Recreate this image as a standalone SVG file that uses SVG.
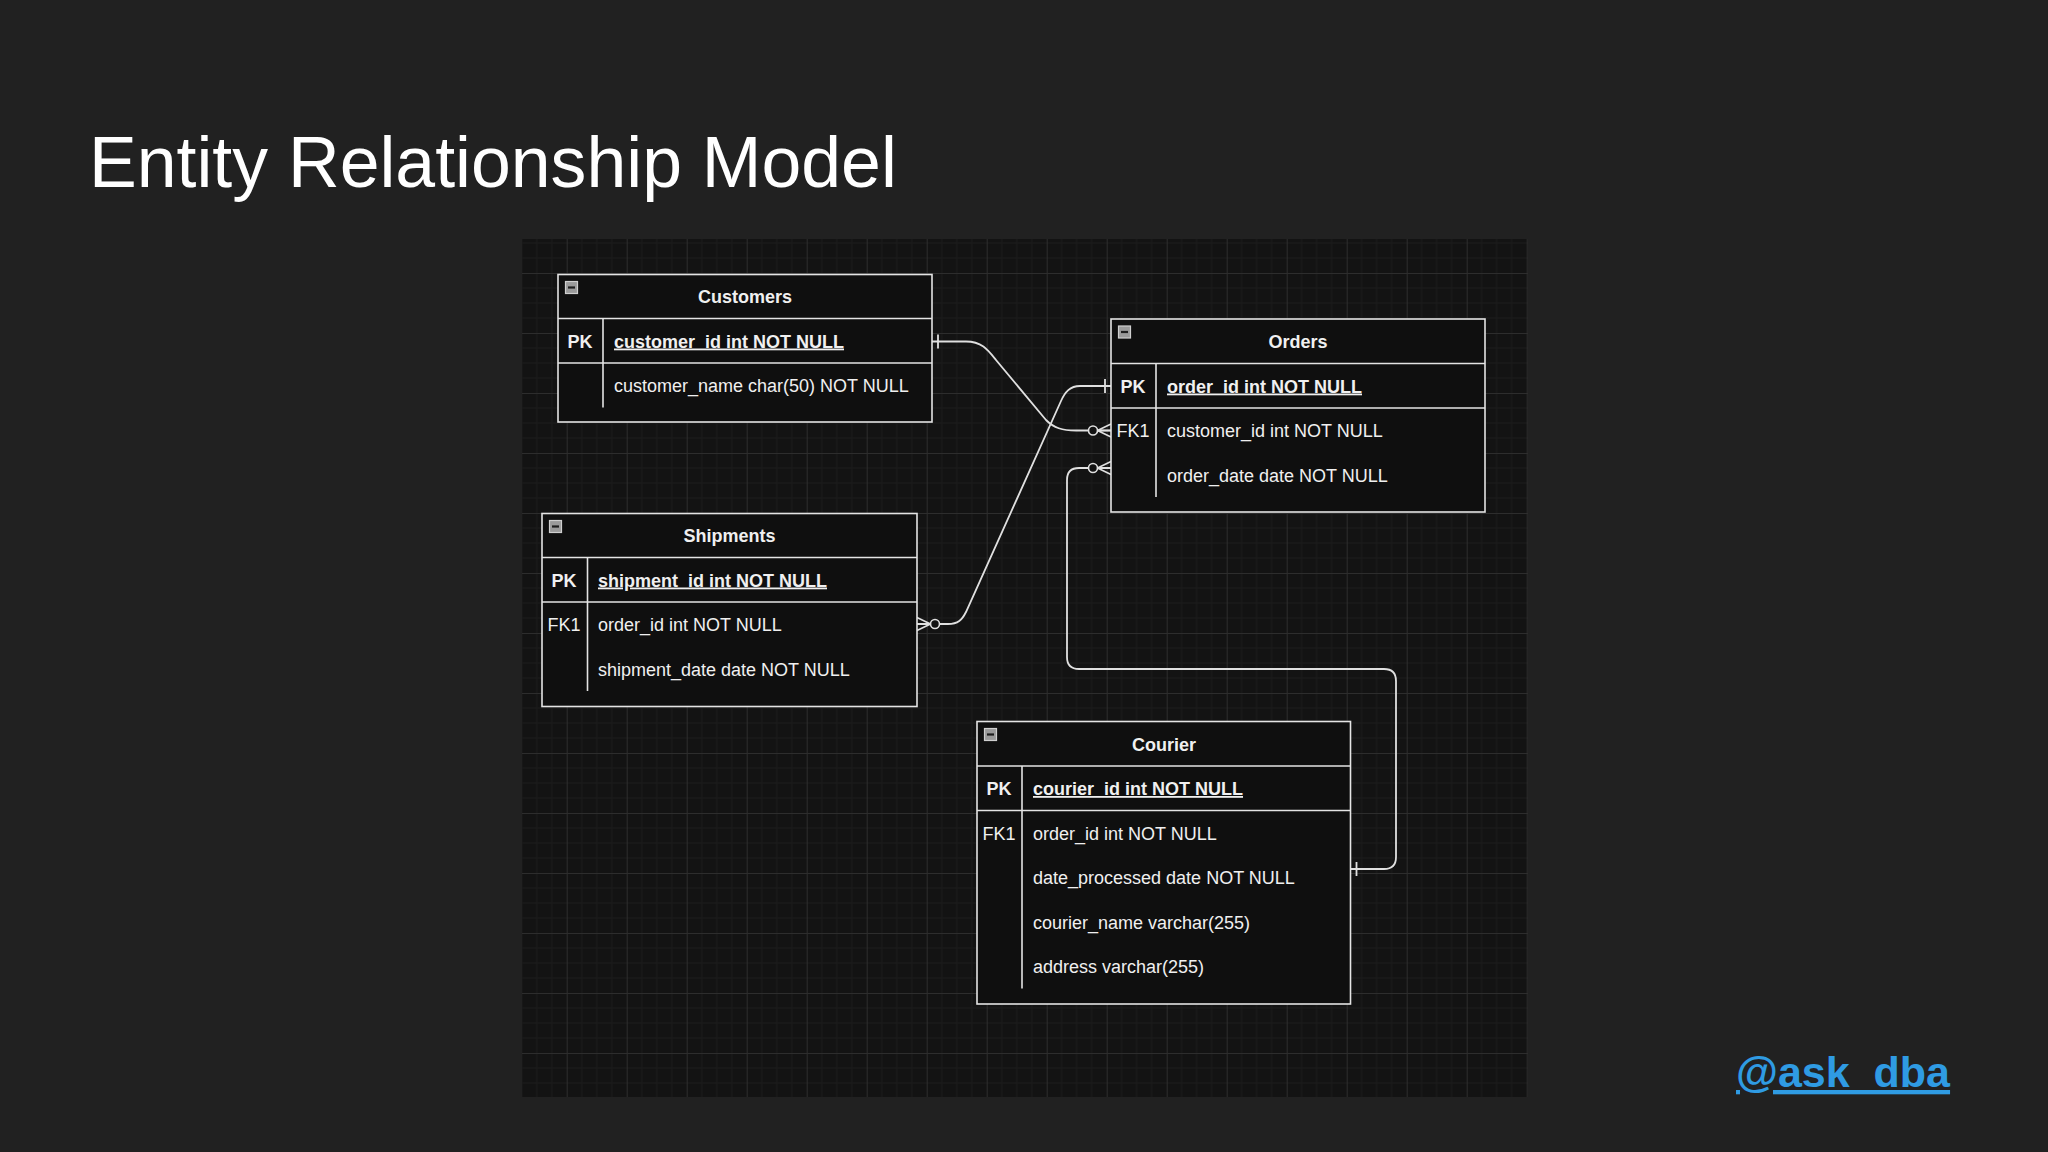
<svg xmlns="http://www.w3.org/2000/svg" width="2048" height="1152" viewBox="0 0 2048 1152">
  <style>
    .tbl { fill: #0f0f0f; stroke: #e4e4e4; stroke-width: 1.6; }
    .ln { stroke: #e4e4e4; stroke-width: 1.6; fill: none; }
    .t { font-family: "Liberation Sans", Arial, Helvetica, sans-serif; font-size: 18px; fill: #f0f0f0; }
    .b { font-weight: bold; }
    .u { text-decoration: underline; }
    .mid { text-anchor: middle; }
    .conn { stroke: #e0e0e0; stroke-width: 1.8; fill: none; }
    .icon { fill: #9a9a9a; stroke: #cfcfcf; stroke-width: 1.2; }
    .iconbar { stroke: #1e1e1e; stroke-width: 2.2; }
  </style>
  <defs>
    <pattern id="grid" patternUnits="userSpaceOnUse" x="26.7" y="33" width="60" height="60">
      <rect width="60" height="60" fill="#131313"/>
      <path d="M15 0V60M30 0V60M45 0V60M0 15H60M0 30H60M0 45H60" stroke="#1c1c1c" stroke-width="1"/>
      <path d="M0.5 0V60M0 0.5H60" stroke="#2d2d2d" stroke-width="1"/>
    </pattern>
    <marker id="one" markerUnits="userSpaceOnUse" orient="auto-start-reverse" refX="0" refY="0" markerWidth="30" markerHeight="30" overflow="visible">
      <path d="M-6 -7V7" stroke="#e0e0e0" stroke-width="1.8" fill="none"/>
    </marker>
    <marker id="zeroMany" markerUnits="userSpaceOnUse" orient="auto-start-reverse" refX="0" refY="0" markerWidth="30" markerHeight="30" overflow="visible">
      <path d="M-13.5 0L0 -6.5M-13.5 0L0 0M-13.5 0L0 6.5" stroke="#e0e0e0" stroke-width="1.6" fill="none"/>
      <circle cx="-18" cy="0" r="4.5" fill="#131313" stroke="#e0e0e0" stroke-width="1.6"/>
    </marker>
  </defs>

  <rect x="0" y="0" width="2048" height="1152" fill="#212121"/>
  <text x="89" y="187" font-family="Liberation Sans, Arial, Helvetica, sans-serif" font-size="71.6" fill="#ffffff">Entity Relationship Model</text>

  <rect x="522" y="239" width="1006" height="858" fill="url(#grid)"/>

  <g id="connectors">
    <path class="conn" marker-start="url(#one)" marker-end="url(#zeroMany)" d="M932 341.5 L966 341.5 C982 341.5 988 350 996 360 L1046 420 C1054 428 1062 430.5 1076 430.5 L1111 430.5"/>
    <path class="conn" marker-start="url(#one)" marker-end="url(#zeroMany)" d="M1111 386 L1080 386 C1070 386 1065 392 1061 401 L966 612 C962 620 958 624 948 624 L917 624"/>
    <path class="conn" marker-start="url(#one)" marker-end="url(#zeroMany)" d="M1350.5 869 L1384 869 Q1396 869 1396 857 L1396 681 Q1396 669 1384 669 L1079 669 Q1067 669 1067 657 L1067 480 Q1067 468 1079 468 L1111 468"/>
  </g>

  <g id="customers">
    <rect class="tbl" x="558" y="274.5" width="374" height="147.5"/>
    <line class="ln" x1="558" y1="318.5" x2="932" y2="318.5"/>
    <line class="ln" x1="558" y1="363" x2="932" y2="363"/>
    <line class="ln" x1="603" y1="318.5" x2="603" y2="407.5"/>
    <rect class="icon" x="565.5" y="281.5" width="12" height="12"/>
    <line class="iconbar" x1="568" y1="287.5" x2="575" y2="287.5"/>
    <text class="t b mid" x="745" y="303">Customers</text>
    <text class="t b mid" x="580" y="347.5">PK</text>
    <text class="t b u" x="614" y="347.5">customer_id int NOT NULL</text>
    <text class="t" x="614" y="392">customer_name char(50) NOT NULL</text>
  </g>

  <g id="orders">
    <rect class="tbl" x="1111" y="319" width="374" height="193"/>
    <line class="ln" x1="1111" y1="363.5" x2="1485" y2="363.5"/>
    <line class="ln" x1="1111" y1="408" x2="1485" y2="408"/>
    <line class="ln" x1="1156" y1="363.5" x2="1156" y2="497"/>
    <rect class="icon" x="1118.5" y="326" width="12" height="12"/>
    <line class="iconbar" x1="1121" y1="332" x2="1128" y2="332"/>
    <text class="t b mid" x="1298" y="348">Orders</text>
    <text class="t b mid" x="1133" y="392.5">PK</text>
    <text class="t b u" x="1167" y="392.5">order_id int NOT NULL</text>
    <text class="t mid" x="1133" y="437">FK1</text>
    <text class="t" x="1167" y="437">customer_id int NOT NULL</text>
    <text class="t" x="1167" y="481.5">order_date date NOT NULL</text>
  </g>

  <g id="shipments">
    <rect class="tbl" x="542" y="513.5" width="375" height="193"/>
    <line class="ln" x1="542" y1="557.5" x2="917" y2="557.5"/>
    <line class="ln" x1="542" y1="602" x2="917" y2="602"/>
    <line class="ln" x1="587.5" y1="557.5" x2="587.5" y2="691"/>
    <rect class="icon" x="549.5" y="520.5" width="12" height="12"/>
    <line class="iconbar" x1="552" y1="526.5" x2="559" y2="526.5"/>
    <text class="t b mid" x="729.5" y="542">Shipments</text>
    <text class="t b mid" x="564" y="586.5">PK</text>
    <text class="t b u" x="598" y="586.5">shipment_id int NOT NULL</text>
    <text class="t mid" x="564" y="631">FK1</text>
    <text class="t" x="598" y="631">order_id int NOT NULL</text>
    <text class="t" x="598" y="675.5">shipment_date date NOT NULL</text>
  </g>

  <g id="courier">
    <rect class="tbl" x="977" y="721.5" width="373.5" height="282.5"/>
    <line class="ln" x1="977" y1="766" x2="1350.5" y2="766"/>
    <line class="ln" x1="977" y1="810.5" x2="1350.5" y2="810.5"/>
    <line class="ln" x1="1022" y1="766" x2="1022" y2="988.5"/>
    <rect class="icon" x="984.5" y="728.5" width="12" height="12"/>
    <line class="iconbar" x1="987" y1="734.5" x2="994" y2="734.5"/>
    <text class="t b mid" x="1164" y="750.5">Courier</text>
    <text class="t b mid" x="999" y="795">PK</text>
    <text class="t b u" x="1033" y="795">courier_id int NOT NULL</text>
    <text class="t mid" x="999" y="839.5">FK1</text>
    <text class="t" x="1033" y="839.5">order_id int NOT NULL</text>
    <text class="t" x="1033" y="884">date_processed date NOT NULL</text>
    <text class="t" x="1033" y="928.5">courier_name varchar(255)</text>
    <text class="t" x="1033" y="973">address varchar(255)</text>
  </g>

  <text x="1736" y="1087" font-family="Liberation Sans, Arial, Helvetica, sans-serif" font-size="43" font-weight="bold" fill="#2f9be3" text-decoration="underline">@ask_dba</text>
</svg>
